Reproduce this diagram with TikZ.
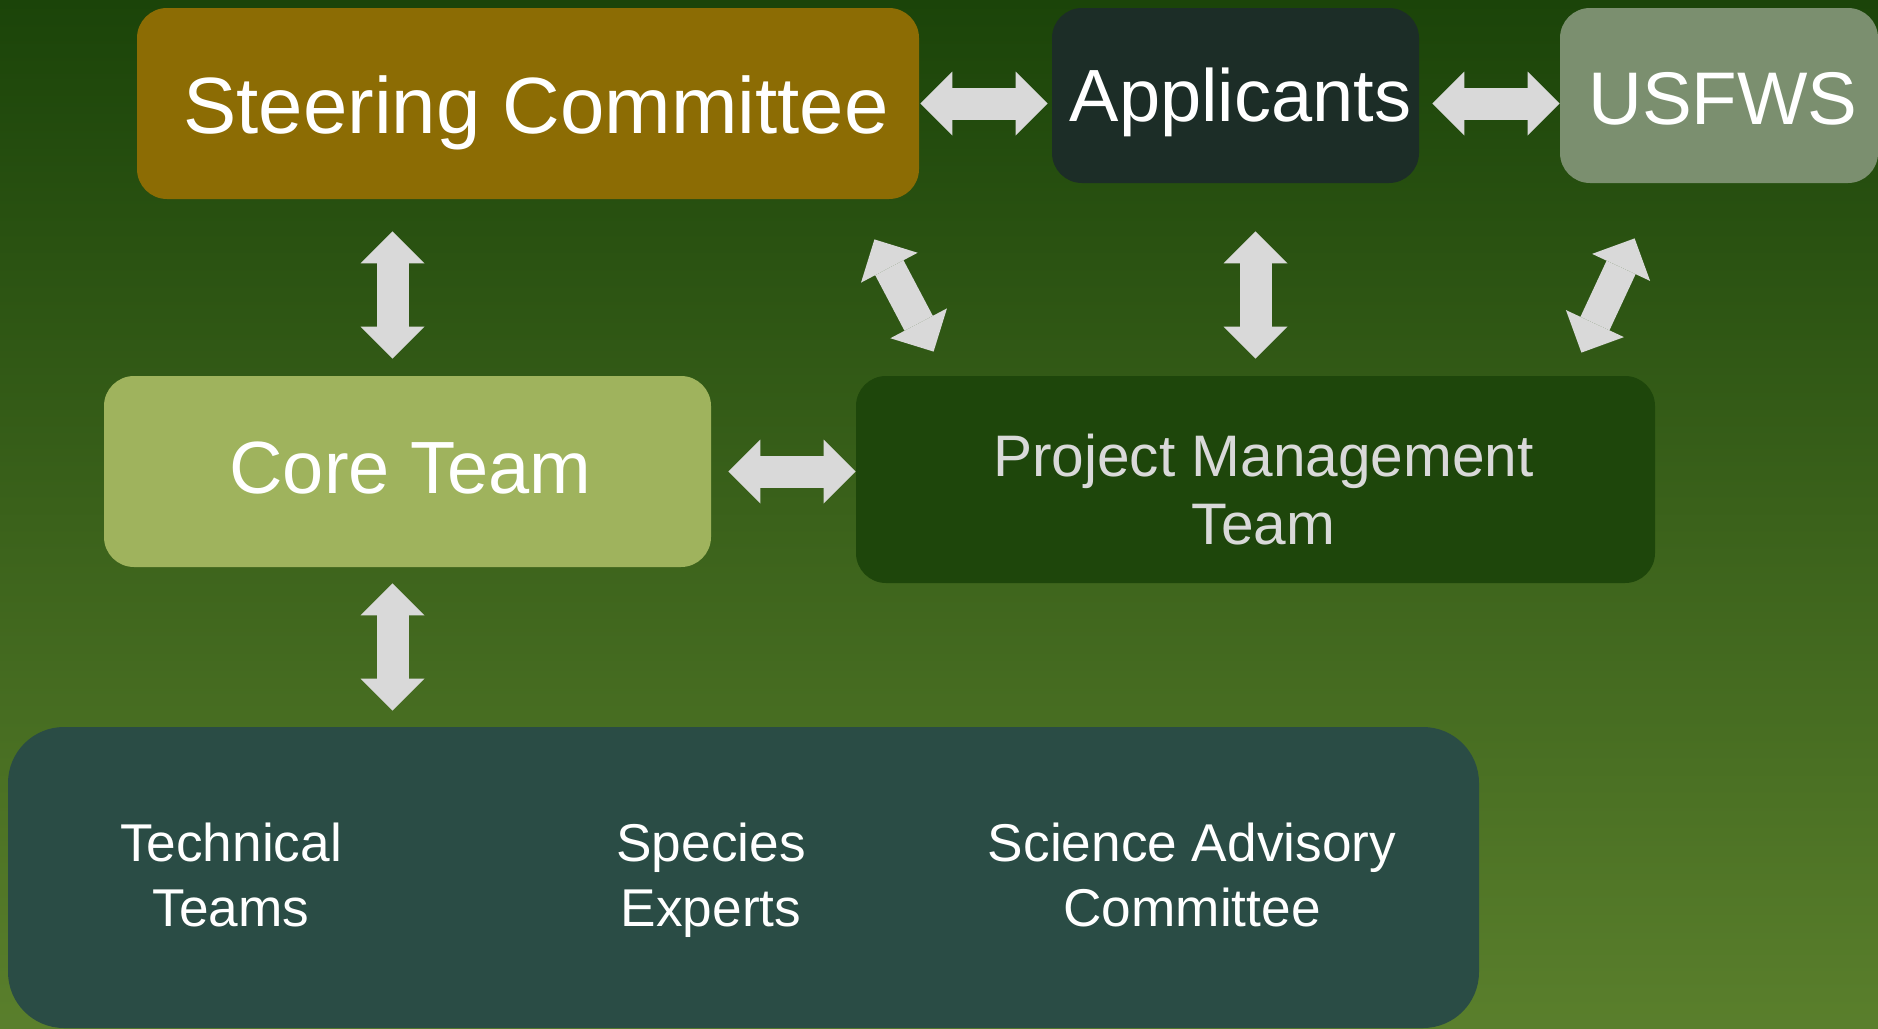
\documentclass[tikz,border=0pt]{standalone}
\usepackage{fontspec}
\setmainfont{Liberation Sans}
\usetikzlibrary{arrows.meta}

\definecolor{bgtop}{HTML}{1B4409}
\definecolor{bgbot}{HTML}{5A7F2C}
\definecolor{steercol}{HTML}{8C6C04}
\definecolor{applcol}{HTML}{1C2D27}
\definecolor{fwscol}{HTML}{7B8F6F}
\definecolor{corecol}{HTML}{9FB35D}
\definecolor{pmtcol}{HTML}{1E460B}
\definecolor{teamcol}{HTML}{2A4C45}
\definecolor{arrowgray}{HTML}{D9D9D9}

% #1 = push right (twice the shift), #2 = push down
\newcommand{\sinktext}[3]{\kern#1\raisebox{-#2}[\height][\depth]{#3}}

\tikzstyle{box} =[rounded corners=15pt, inner sep=0pt,
text=white, align=center]
\tikzstyle{member} =[box, font=\fontsize{26.6}{32.5}\selectfont]
\tikzstyle{link} =[draw=arrowgray, line width=16pt,
{Triangle[length=16pt,width=32pt,line width=0pt]}-{Triangle[length=16pt,width=32pt,line width=0pt]}]

\begin{document}
\begin{tikzpicture}[x=0.5pt, y=-0.5pt]
	\shade[top color=bgtop, bottom color=bgbot] (0,0) rectangle (1878,1028);
	\useasboundingbox (0,0) rectangle (1878,1028);
	% top row
	\node[box, fill=steercol, minimum width=391pt, minimum height=95.5pt,
	font=\fontsize{39.9}{47}\selectfont] (sc) at (528,103.5)
	{\sinktext{8pt}{4.8pt}{Steering Committee}};
	\node[box, fill=applcol, minimum width=183.5pt, minimum height=87.5pt,
	font=\fontsize{37}{44}\selectfont] (app) at (1235.5,95.5)
	{\sinktext{5pt}{3.5pt}{Applicants}};
	\node[box, fill=fwscol, minimum width=159pt, minimum height=87.5pt,
	font=\fontsize{37.3}{44}\selectfont] (fws) at (1719,95.5)
	{\sinktext{4pt}{1.5pt}{USFWS}};
	% middle row
	\node[box, fill=corecol, minimum width=303.5pt, minimum height=95.5pt,
	font=\fontsize{37}{43}\selectfont] (core) at (407.5,471.5)
	{\sinktext{3pt}{-1.8pt}{Core Team}};
	\node[box, fill=pmtcol, minimum width=399.5pt, minimum height=103.5pt,
	text=arrowgray, font=\fontsize{29.3}{34}\selectfont] (pmt) at (1255.5,479.5)
	{\sinktext{8pt}{4.8pt}{\parbox{300pt}{\centering Project Management\\Team}}};
	% bottom box
	\node[box, rounded corners=28pt, fill=teamcol, minimum width=735.5pt,
	minimum height=150.5pt] (teams) at (743.5,877.5) {};
	\node[member] (tech) at (231,881) {\strut Technical\\\strut Teams};
	\node[member] (spec) at (711,881) {\strut Species\\\strut Experts};
	\node[member] (sac) at (1192,881) {\strut Science Advisory\\\strut Committee};
	% block arrows
	\draw[link, shorten <=0.5pt, shorten >=2pt] (sc.east) -- (sc.east -| app.west);
	\draw[link, shorten <=6.5pt] ([yshift=-4pt]app.east) -- ([yshift=-4pt]fws.west);
	\draw[link, shorten <=16pt, shorten >=8.5pt] ([xshift=-7.5pt]core.north |- sc.south)
	-- ([xshift=-7.5pt]core.north);
	\draw[link, shorten <=24pt, shorten >=8.5pt] (pmt.north |- app.south) -- (pmt.north);
	\draw[link] ([xshift=-22.5pt,yshift=-20pt]sc.south east)
	-- ([xshift=39pt,yshift=12pt]pmt.north west);
	\draw[link] ([xshift=37.5pt,yshift=-27.5pt]fws.south west)
	-- ([xshift=-37pt,yshift=11.5pt]pmt.north east);
	\draw[link, shorten <=8.5pt] (core.east) -- (core.east -| pmt.west);
	\draw[link, shorten <=8pt, shorten >=8pt] ([xshift=-7.5pt]core.south)
	-- ([xshift=-7.5pt]core.south |- teams.north);
\end{tikzpicture}
\end{document}
